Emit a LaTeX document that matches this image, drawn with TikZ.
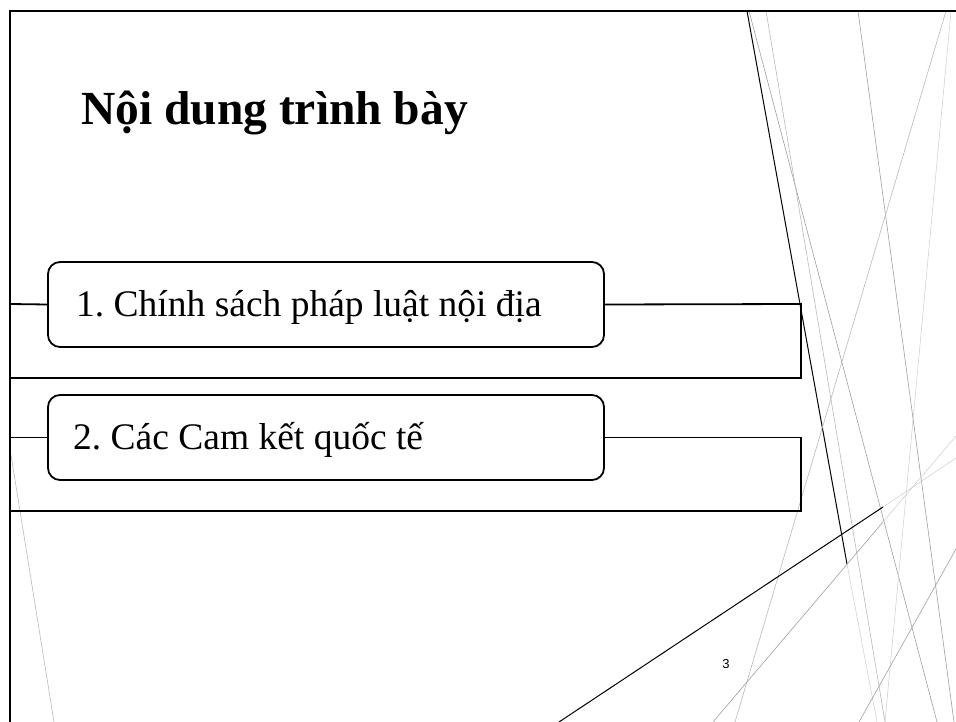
\documentclass[tikz,border=0pt]{standalone}
\usepackage{fontspec}
\setmainfont{Liberation Serif}
\newfontfamily\pagefont{Liberation Sans}
\frenchspacing
\begin{document}
\begin{tikzpicture}[x=1pt,y=-1pt,
  frame/.style={line width=2.5pt,black},
  outline/.style={line width=1.8pt,black},
  itembox/.style={draw=black,line width=1.8pt,fill=white,rounded corners=12pt,
    minimum width=556pt,minimum height=85pt,inner sep=0pt},
  itemtext/.style={anchor=base west,inner sep=0pt,font=\fontsize{37.5}{44}\selectfont},
  deco/.style={line width=0.6pt,gray!75},
  decolight/.style={line width=0.5pt,gray!40},
  decodark/.style={line width=1pt,black}]
\useasboundingbox (0,0) rectangle (956,722);
% decorative lines
\draw[decodark] (747,11) -- (847,564);
\draw[decolight] (847,564) -- (877,722);
\draw[deco] (749,11) -- (937,722);
\draw[deco,gray!55] (766,11) -- (885,722);
\draw[deco] (858,11) -- (954,722);
\draw[deco,gray!55] (946,11) -- (735,722);
\draw[decolight] (951,11) -- (885,722);
\draw[decodark] (559,722) -- (883,507);
\draw[decolight] (883,507) -- (956,458);
\draw[deco] (713,722) -- (883,522);
\draw[decolight] (883,522) -- (956,436);
\draw[deco] (956,549) -- (859,722);
\draw[deco,gray!55] (11,455) -- (54,722);
% frame
\coordinate (tl) at (9,11);
\coordinate (tr) at (956,11);
\coordinate (lt) at (10,11);
\coordinate (lb) at (10,722);
\draw[frame] (tl) -- (tr);
\draw[frame] (lt) -- (lb);
% title
\node[anchor=base west,inner sep=0pt,font=\bfseries\fontsize{47.5}{56}\selectfont] (title) at (81,125) {Nội dung trình bày};
% item 1
\coordinate (s1) at (10,304);
\coordinate (r1a) at (801,304);
\coordinate (r1b) at (801,378);
\coordinate (l1b) at (10,378);
\node[itembox] (b1) at (326,304.5) {};
\draw[outline] (s1) -- (b1.west);
\draw[outline] (b1.east) -- (r1a) -- (r1b) -- (l1b);
\node[itemtext] (t1) at (76,316) {1. Chính sách pháp luật nội địa};
% item 2
\coordinate (s2) at (10,437.5);
\coordinate (r2a) at (801,437.5);
\coordinate (r2b) at (801,511);
\coordinate (l2b) at (10,511);
\node[itembox] (b2) at (326,437.5) {};
\draw[outline] (s2) -- (b2.west);
\draw[outline] (b2.east) -- (r2a) -- (r2b) -- (l2b);
\node[itemtext] (t2) at (73,449) {2. Các Cam kết quốc tế};
% page number
\node[anchor=base,inner sep=0pt,font=\pagefont\fontsize{13}{15}\selectfont] (pg) at (726,668) {3};
\end{tikzpicture}
\end{document}
